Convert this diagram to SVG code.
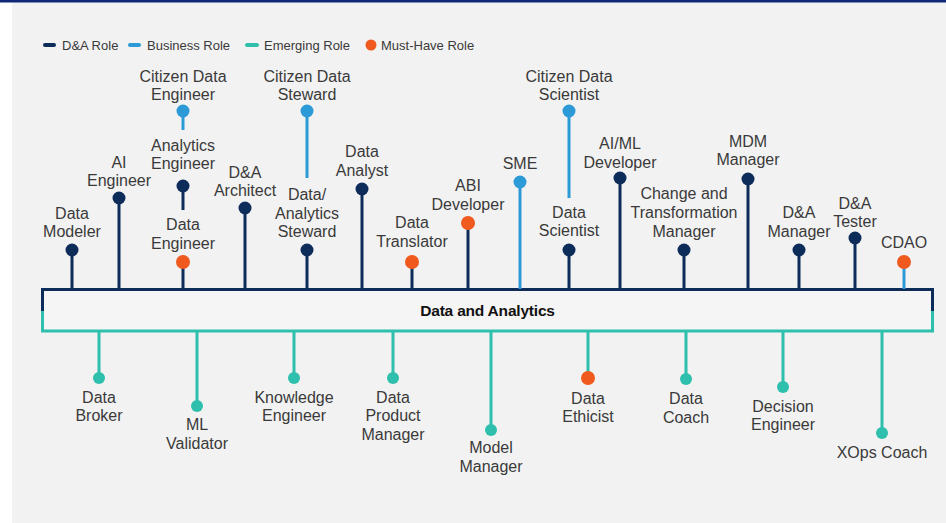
<svg xmlns="http://www.w3.org/2000/svg" width="946" height="523" viewBox="0 0 946 523">
<style>
.lbl{font-family:"Liberation Sans",Arial,sans-serif;font-size:16px;fill:#3a3a3a;text-anchor:middle}
.leg{font-family:"Liberation Sans",Arial,sans-serif;font-size:13px;fill:#3a3a3a}
.title{font-family:"Liberation Sans",Arial,sans-serif;font-size:15.5px;font-weight:bold;fill:#111;text-anchor:middle;letter-spacing:-0.2px}
.n{stroke:#0d2c5a;stroke-width:3;fill:none}
.b{stroke:#2b9ad6;stroke-width:3;fill:none}
.t{stroke:#2fbfad;stroke-width:3;fill:none}
.dn{fill:#0d2c5a}
.db{fill:#2b9ad6}
.dt{fill:#2fbfad}
.do{fill:#f05a1e}
</style>
<rect x="0" y="0" width="946" height="523" fill="#ffffff"/>
<rect x="12" y="2" width="934" height="521" fill="#f2f2f2"/>
<rect x="0" y="0" width="946" height="2.5" fill="#0f2878"/>

<g id="legend">
<line x1="45" y1="45" x2="54" y2="45" stroke="#0d2c5a" stroke-width="4" stroke-linecap="round"/>
<text class="leg" x="62" y="49.5">D&amp;A Role</text>
<line x1="130" y1="45" x2="139" y2="45" stroke="#2b9ad6" stroke-width="4" stroke-linecap="round"/>
<text class="leg" x="147" y="49.5">Business Role</text>
<line x1="247" y1="45" x2="257" y2="45" stroke="#2fbfad" stroke-width="4" stroke-linecap="round"/>
<text class="leg" x="264" y="49.5">Emerging Role</text>
<circle cx="371" cy="45" r="5.5" fill="#f05a1e"/>
<text class="leg" x="381" y="49.5">Must-Have Role</text>
</g>

<g id="hub">
<rect x="42.5" y="289.5" width="890" height="41.5" fill="#f5f5f5"/>
<path class="n" d="M42.5,311 V289.5 H932.5 V311"/>
<path class="t" d="M42.5,311 V331 H932.5 V311"/>
<text class="title" x="487.5" y="316">Data and Analytics</text>
</g>

<g id="connectors">
<line class="n" x1="72" y1="250" x2="72" y2="289"/>
<line class="n" x1="119" y1="198" x2="119" y2="289"/>
<line class="n" x1="183" y1="262" x2="183" y2="289"/>
<line class="n" x1="183" y1="186" x2="183" y2="210"/>
<line class="b" x1="183" y1="111" x2="183" y2="130"/>
<line class="n" x1="245" y1="208" x2="245" y2="289"/>
<line class="n" x1="307" y1="250" x2="307" y2="289"/>
<line class="b" x1="307" y1="111" x2="307" y2="178"/>
<line class="n" x1="362" y1="189" x2="362" y2="289"/>
<line class="n" x1="412" y1="262" x2="412" y2="289"/>
<line class="n" x1="468" y1="223" x2="468" y2="289"/>
<line class="b" x1="520" y1="182" x2="520" y2="289"/>
<line class="b" x1="569" y1="111" x2="569" y2="198"/>
<line class="n" x1="569" y1="250" x2="569" y2="289"/>
<line class="n" x1="620" y1="178" x2="620" y2="289"/>
<line class="n" x1="684" y1="250" x2="684" y2="289"/>
<line class="n" x1="748" y1="179" x2="748" y2="289"/>
<line class="n" x1="799" y1="250" x2="799" y2="289"/>
<line class="n" x1="855" y1="238" x2="855" y2="289"/>
<line class="b" x1="904" y1="262" x2="904" y2="289"/>
<line class="t" x1="99" y1="331" x2="99" y2="378"/>
<line class="t" x1="197" y1="331" x2="197" y2="406"/>
<line class="t" x1="294" y1="331" x2="294" y2="378"/>
<line class="t" x1="393" y1="331" x2="393" y2="378"/>
<line class="t" x1="491" y1="331" x2="491" y2="430"/>
<line class="t" x1="588" y1="331" x2="588" y2="378"/>
<line class="t" x1="686" y1="331" x2="686" y2="379"/>
<line class="t" x1="783" y1="331" x2="783" y2="387"/>
<line class="t" x1="882" y1="331" x2="882" y2="433"/>
</g>

<g id="data-modeler"><circle class="dn" cx="72" cy="250" r="6.5"/><text class="lbl" x="72" y="218.5">Data</text><text class="lbl" x="72" y="236.5">Modeler</text></g>
<g id="ai-engineer"><circle class="dn" cx="119" cy="198" r="6.5"/><text class="lbl" x="119" y="167.5">AI</text><text class="lbl" x="119" y="186">Engineer</text></g>
<g id="citizen-data-engineer"><circle class="db" cx="183" cy="111" r="6.5"/><text class="lbl" x="183" y="82">Citizen Data</text><text class="lbl" x="183" y="100">Engineer</text></g>
<g id="analytics-engineer"><circle class="dn" cx="183" cy="186" r="6.5"/><text class="lbl" x="183" y="151">Analytics</text><text class="lbl" x="183" y="169">Engineer</text></g>
<g id="data-engineer"><circle class="do" cx="183" cy="262" r="7"/><text class="lbl" x="183" y="230">Data</text><text class="lbl" x="183" y="248.5">Engineer</text></g>
<g id="da-architect"><circle class="dn" cx="245" cy="208" r="6.5"/><text class="lbl" x="245" y="177.5">D&amp;A</text><text class="lbl" x="245" y="196">Architect</text></g>
<g id="citizen-data-steward"><circle class="db" cx="307" cy="111" r="6.5"/><text class="lbl" x="307" y="82">Citizen Data</text><text class="lbl" x="307" y="100">Steward</text></g>
<g id="data-analytics-steward"><circle class="dn" cx="307" cy="250" r="6.5"/><text class="lbl" x="307" y="200">Data/</text><text class="lbl" x="307" y="218.5">Analytics</text><text class="lbl" x="307" y="237">Steward</text></g>
<g id="data-analyst"><circle class="dn" cx="362" cy="189" r="6.5"/><text class="lbl" x="362" y="157">Data</text><text class="lbl" x="362" y="176">Analyst</text></g>
<g id="data-translator"><circle class="do" cx="412" cy="262" r="7"/><text class="lbl" x="412" y="228">Data</text><text class="lbl" x="412" y="246.5">Translator</text></g>
<g id="abi-developer"><circle class="do" cx="468" cy="223" r="7"/><text class="lbl" x="468" y="191">ABI</text><text class="lbl" x="468" y="209.5">Developer</text></g>
<g id="sme"><circle class="db" cx="520" cy="182" r="6.5"/><text class="lbl" x="520" y="168.5">SME</text></g>
<g id="citizen-data-scientist"><circle class="db" cx="569" cy="111" r="6.5"/><text class="lbl" x="569" y="82">Citizen Data</text><text class="lbl" x="569" y="100">Scientist</text></g>
<g id="data-scientist"><circle class="dn" cx="569" cy="250" r="6.5"/><text class="lbl" x="569" y="217.5">Data</text><text class="lbl" x="569" y="236">Scientist</text></g>
<g id="aiml-developer"><circle class="dn" cx="620" cy="178" r="6.5"/><text class="lbl" x="620" y="149">AI/ML</text><text class="lbl" x="620" y="167.5">Developer</text></g>
<g id="change-transformation-manager"><circle class="dn" cx="684" cy="250" r="6.5"/><text class="lbl" x="684" y="199">Change and</text><text class="lbl" x="684" y="217.5">Transformation</text><text class="lbl" x="684" y="236.5">Manager</text></g>
<g id="mdm-manager"><circle class="dn" cx="748" cy="179" r="6.5"/><text class="lbl" x="748" y="146.5">MDM</text><text class="lbl" x="748" y="165">Manager</text></g>
<g id="da-manager"><circle class="dn" cx="799" cy="250" r="6.5"/><text class="lbl" x="799" y="218">D&amp;A</text><text class="lbl" x="799" y="237">Manager</text></g>
<g id="da-tester"><circle class="dn" cx="855" cy="238" r="6.5"/><text class="lbl" x="855" y="208.5">D&amp;A</text><text class="lbl" x="855" y="227">Tester</text></g>
<g id="cdao"><circle class="do" cx="904" cy="262" r="7"/><text class="lbl" x="904" y="247.5">CDAO</text></g>

<g id="data-broker"><circle class="dt" cx="99" cy="378" r="6"/><text class="lbl" x="99" y="402.5">Data</text><text class="lbl" x="99" y="421">Broker</text></g>
<g id="ml-validator"><circle class="dt" cx="197" cy="406" r="6"/><text class="lbl" x="197" y="430">ML</text><text class="lbl" x="197" y="448.5">Validator</text></g>
<g id="knowledge-engineer"><circle class="dt" cx="294" cy="378" r="6"/><text class="lbl" x="294" y="402.5">Knowledge</text><text class="lbl" x="294" y="421">Engineer</text></g>
<g id="data-product-manager"><circle class="dt" cx="393" cy="378" r="6"/><text class="lbl" x="393" y="402.5">Data</text><text class="lbl" x="393" y="421">Product</text><text class="lbl" x="393" y="439.5">Manager</text></g>
<g id="model-manager"><circle class="dt" cx="491" cy="430" r="6"/><text class="lbl" x="491" y="453">Model</text><text class="lbl" x="491" y="471.5">Manager</text></g>
<g id="data-ethicist"><circle class="do" cx="588" cy="378" r="7"/><text class="lbl" x="588" y="403.5">Data</text><text class="lbl" x="588" y="422">Ethicist</text></g>
<g id="data-coach"><circle class="dt" cx="686" cy="379" r="6"/><text class="lbl" x="686" y="404">Data</text><text class="lbl" x="686" y="422.5">Coach</text></g>
<g id="decision-engineer"><circle class="dt" cx="783" cy="387" r="6"/><text class="lbl" x="783" y="412">Decision</text><text class="lbl" x="783" y="430">Engineer</text></g>
<g id="xops-coach"><circle class="dt" cx="882" cy="433" r="6"/><text class="lbl" x="882" y="458">XOps Coach</text></g>
</svg>
